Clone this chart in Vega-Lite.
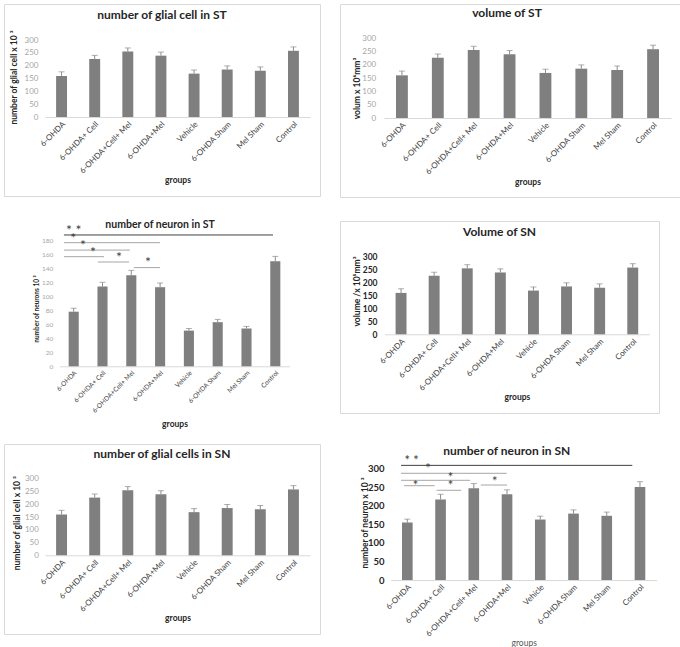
{
  "$schema": "https://vega.github.io/schema/vega-lite/v6.json",
  "background": "white",
  "padding": {"left": 3, "top": 3, "right": 0, "bottom": 0},
  "columns": 2,
  "spacing": {"row": 24, "column": 17},
  "align": "none",
  "bounds": "flush",
  "config": {
    "font": "Lato",
    "view": {"stroke": null},
    "axis": {"grid": false, "ticks": false, "tickSize": 0, "domain": false, "labelFont": "Lato", "titleFont": "Lato", "titleFontWeight": "bold", "titleColor": "#262626", "labelColor": "#404040"},
    "axisX": {"domain": true, "domainColor": "#d9d9d9", "labelAngle": -45, "labelOverlap": false, "labelPadding": 3, "titleBaseline": "middle", "titleFontSize": 8.5},
    "axisY": {"labelPadding": 3, "labelOverlap": false, "tickCount": 20, "titleAngle": -90, "titleBaseline": "middle", "titleAlign": "center"},
    "title": {"font": "Lato", "fontWeight": "bold", "color": "#262626", "anchor": "middle", "frame": "group", "baseline": "middle"}
  },
  "datasets": {
    "glialST": [
      {"group": "6-OHDA", "value": 160, "upper": 176},
      {"group": "6-OHDA+ Cell", "value": 226, "upper": 240},
      {"group": "6-OHDA+Cell+ Mel", "value": 255, "upper": 269},
      {"group": "6-OHDA+Mel", "value": 239, "upper": 253},
      {"group": "Vehicle", "value": 169, "upper": 183},
      {"group": "6-OHDA Sham", "value": 185, "upper": 199},
      {"group": "Mel Sham", "value": 180, "upper": 195},
      {"group": "Control", "value": 258, "upper": 273}
    ],
    "volumeST": [
      {"group": "6-OHDA", "value": 160, "upper": 176},
      {"group": "6-OHDA+ Cell", "value": 226, "upper": 240},
      {"group": "6-OHDA+Cell+ Mel", "value": 255, "upper": 269},
      {"group": "6-OHDA+Mel", "value": 239, "upper": 253},
      {"group": "Vehicle", "value": 169, "upper": 183},
      {"group": "6-OHDA Sham", "value": 185, "upper": 199},
      {"group": "Mel Sham", "value": 180, "upper": 195},
      {"group": "Control", "value": 258, "upper": 273}
    ],
    "volumeSN": [
      {"group": "6-OHDA", "value": 160, "upper": 176},
      {"group": "6-OHDA+ Cell", "value": 226, "upper": 240},
      {"group": "6-OHDA+Cell+ Mel", "value": 255, "upper": 269},
      {"group": "6-OHDA+Mel", "value": 239, "upper": 253},
      {"group": "Vehicle", "value": 169, "upper": 183},
      {"group": "6-OHDA Sham", "value": 185, "upper": 199},
      {"group": "Mel Sham", "value": 180, "upper": 195},
      {"group": "Control", "value": 258, "upper": 273}
    ],
    "glialSN": [
      {"group": "6-OHDA", "value": 160, "upper": 176},
      {"group": "6-OHDA+ Cell", "value": 226, "upper": 240},
      {"group": "6-OHDA+Cell+ Mel", "value": 255, "upper": 269},
      {"group": "6-OHDA+Mel", "value": 239, "upper": 253},
      {"group": "Vehicle", "value": 169, "upper": 183},
      {"group": "6-OHDA Sham", "value": 185, "upper": 199},
      {"group": "Mel Sham", "value": 180, "upper": 195},
      {"group": "Control", "value": 258, "upper": 273}
    ],
    "neuronST": [
      {"group": "6-OHDA", "value": 78, "upper": 83},
      {"group": "6-OHDA+ Cell", "value": 114, "upper": 120},
      {"group": "6-OHDA+Cell+ Mel", "value": 130, "upper": 137},
      {"group": "6-OHDA+Mel", "value": 113, "upper": 119},
      {"group": "Vehicle", "value": 51, "upper": 54},
      {"group": "6-OHDA Sham", "value": 63, "upper": 67},
      {"group": "Mel Sham", "value": 54, "upper": 57},
      {"group": "Control", "value": 150, "upper": 157}
    ],
    "neuronSN": [
      {"group": "6-OHDA", "value": 155, "upper": 164},
      {"group": "6-OHDA+ Cell", "value": 217, "upper": 231},
      {"group": "6-OHDA+Cell+ Mel", "value": 247, "upper": 260},
      {"group": "6-OHDA+Mel", "value": 231, "upper": 243},
      {"group": "Vehicle", "value": 163, "upper": 172},
      {"group": "6-OHDA Sham", "value": 179, "upper": 189},
      {"group": "Mel Sham", "value": 173, "upper": 183},
      {"group": "Control", "value": 251, "upper": 265}
    ],
    "sigST": [
      {"start": 0.16, "end": 7.42, "y": 187.6, "sig": "**"},
      {"start": 0.16, "end": 3.5, "y": 176.6, "sig": "*"},
      {"start": 0.16, "end": 2.45, "y": 166, "sig": "*"},
      {"start": 0.16, "end": 1.55, "y": 156.6, "sig": "*"},
      {"start": 1.34, "end": 2.42, "y": 149, "sig": "*"},
      {"start": 2.59, "end": 3.5, "y": 141, "sig": "*"}
    ],
    "starsST": [
      {"pos": 0.5, "y": 193.3, "sig": "* *"},
      {"pos": 0.48, "y": 181.9, "sig": "*"},
      {"pos": 0.82, "y": 171.9, "sig": "*"},
      {"pos": 1.17, "y": 162.3, "sig": "*"},
      {"pos": 2.07, "y": 155.1, "sig": "*"},
      {"pos": 3.08, "y": 147.6, "sig": "*"}
    ],
    "sigSN": [
      {"start": 0.31, "end": 7.27, "y": 309, "sig": "**"},
      {"start": 0.31, "end": 3.49, "y": 287.6, "sig": "*"},
      {"start": 0.31, "end": 2.39, "y": 268.7, "sig": "*"},
      {"start": 0.4, "end": 1.32, "y": 254.2, "sig": "*"},
      {"start": 1.38, "end": 2.12, "y": 241.8, "sig": "*"},
      {"start": 2.71, "end": 3.5, "y": 256, "sig": "*"}
    ],
    "starsSN": [
      {"pos": 0.63, "y": 322, "sig": "* *"},
      {"pos": 1.12, "y": 300, "sig": "*"},
      {"pos": 1.8, "y": 275.7, "sig": "*"},
      {"pos": 0.75, "y": 254, "sig": "*"},
      {"pos": 1.8, "y": 254, "sig": "*"},
      {"pos": 3.13, "y": 265, "sig": "*"}
    ]
  },
  "concat": [
    {
      "width": 316, "height": 192,
      "view": {"stroke": "#d9d9d9"},
      "title": {"text": "number of glial cell in ST", "fontSize": 12, "offset": -18},
      "data": {"name": "glialST"},
      "encoding": {
        "x": {"field": "group", "type": "nominal", "sort": null,
          "scale": {"range": [41, 306], "paddingInner": 0.67, "paddingOuter": 0.335},
          "axis": {"title": "groups", "offset": -79, "titleY": 62, "labelFontSize": 8}}
      },
      "layer": [
        {"mark": {"type": "bar", "color": "#7f7f7f"},
          "encoding": {"y": {"field": "value", "type": "quantitative",
            "scale": {"domain": [0, 300], "range": [113, 36], "nice": false},
            "axis": {"title": "number of glial cell x 10 ³", "values": [0, 50, 100, 150, 200, 250, 300], "tickCount": 20, "labelOverlap": false, "offset": -37, "titleX": -28, "titleY": 73, "labelFontSize": 8, "labelColor": "#a6a6a6", "titleFontSize": 8.5}}}},
        {"mark": {"type": "rule", "color": "#8c8c8c"},
          "encoding": {"y": {"field": "value", "type": "quantitative"}, "y2": {"field": "upper"}}},
        {"mark": {"type": "tick", "color": "#8c8c8c", "size": 6, "thickness": 1},
          "encoding": {"y": {"field": "upper", "type": "quantitative"}}}
      ]
    },
    {
      "width": 341, "height": 193,
      "view": {"stroke": "#d9d9d9"},
      "title": {"text": "volume of ST", "fontSize": 12, "offset": -16, "dx": -3.5},
      "data": {"name": "volumeST"},
      "encoding": {
        "x": {"field": "group", "type": "nominal", "sort": null,
          "scale": {"range": [44, 331], "paddingInner": 0.67, "paddingOuter": 0.335},
          "axis": {"title": "groups", "offset": -79, "titleY": 63, "labelFontSize": 8}}
      },
      "layer": [
        {"mark": {"type": "bar", "color": "#7f7f7f"},
          "encoding": {"y": {"field": "value", "type": "quantitative",
            "scale": {"domain": [0, 300], "range": [114, 34], "nice": false},
            "axis": {"title": "volum x 10⁶mm³", "values": [0, 50, 100, 150, 200, 250, 300], "tickCount": 20, "labelOverlap": false, "offset": -38.7, "titleX": -22.7, "titleY": 84, "labelFontSize": 8, "labelColor": "#a6a6a6", "titleFontSize": 8.5}}}},
        {"mark": {"type": "rule", "color": "#8c8c8c"},
          "encoding": {"y": {"field": "value", "type": "quantitative"}, "y2": {"field": "upper"}}},
        {"mark": {"type": "tick", "color": "#8c8c8c", "size": 6, "thickness": 1},
          "encoding": {"y": {"field": "upper", "type": "quantitative"}}}
      ]
    },
    {
      "width": 319, "height": 199,
      "title": {"text": "number of neuron in ST", "fontSize": 10.5, "offset": -9, "dx": -3.5},
      "resolve": {"scale": {"x": "independent"}},
      "layer": [
        {
          "data": {"name": "neuronST"},
          "encoding": {
            "x": {"field": "group", "type": "nominal", "sort": null,
              "scale": {"range": [55.3, 285.7], "paddingInner": 0.65, "paddingOuter": 0.325},
              "axis": {"title": "groups", "offset": -53.7, "titleY": 56.7, "labelFontSize": 6.5}}
          },
          "layer": [
            {"mark": {"type": "bar", "color": "#7f7f7f"},
              "encoding": {"y": {"field": "value", "type": "quantitative",
                "scale": {"domain": [0, 180], "range": [145.3, 19.3], "nice": false},
                "axis": {"title": "number of neurons 10 ³", "values": [0, 20, 40, 60, 80, 100, 120, 140, 160, 180], "tickCount": 20, "labelOverlap": false, "offset": -51.7, "titleX": -19.7, "titleY": 87.5, "labelFontSize": 6.5, "labelColor": "#a6a6a6", "titleFontSize": 6.5}}}},
            {"mark": {"type": "rule", "color": "#8c8c8c"},
              "encoding": {"y": {"field": "value", "type": "quantitative"}, "y2": {"field": "upper"}}},
            {"mark": {"type": "tick", "color": "#8c8c8c", "size": 6, "thickness": 1},
              "encoding": {"y": {"field": "upper", "type": "quantitative"}}}
          ]
        },
        {
          "layer": [
            {"data": {"name": "sigST"},
              "mark": {"type": "rule", "strokeWidth": 1},
              "encoding": {
                "x": {"field": "start", "type": "quantitative", "scale": {"domain": [0, 8], "range": [55.3, 285.7], "nice": false, "zero": false}, "axis": null},
                "x2": {"field": "end"},
                "y": {"field": "y", "type": "quantitative", "scale": {"domain": [0, 180], "range": [145.3, 19.3], "nice": false}},
                "color": {"field": "sig", "type": "nominal", "scale": {"domain": ["**", "*"], "range": ["#404040", "#a6a6a6"]}, "legend": null}
              }},
            {"data": {"name": "starsST"},
              "mark": {"type": "text", "fontSize": 14, "color": "#404040", "baseline": "middle", "dy": 0},
              "encoding": {
                "x": {"field": "pos", "type": "quantitative", "scale": {"domain": [0, 8], "range": [55.3, 285.7], "nice": false, "zero": false}, "axis": null},
                "y": {"field": "y", "type": "quantitative", "scale": {"domain": [0, 180], "range": [145.3, 19.3], "nice": false}},
                "text": {"field": "sig"}
              }}
          ]
        }
      ]
    },
    {
      "width": 319, "height": 192,
      "view": {"stroke": "#d9d9d9"},
      "title": {"text": "Volume of SN", "fontSize": 12, "offset": -18},
      "data": {"name": "volumeSN"},
      "encoding": {
        "x": {"field": "group", "type": "nominal", "sort": null,
          "scale": {"range": [44.5, 309.3], "paddingInner": 0.67, "paddingOuter": 0.335},
          "axis": {"title": "groups", "offset": -78.7, "titleY": 61.7, "labelFontSize": 8}}
      },
      "layer": [
        {"mark": {"type": "bar", "color": "#7f7f7f"},
          "encoding": {"y": {"field": "value", "type": "quantitative",
            "scale": {"domain": [0, 300], "range": [113.3, 35.7], "nice": false},
            "axis": {"title": "volume /x 10⁵mm³", "values": [0, 50, 100, 150, 200, 250, 300], "tickCount": 20, "labelOverlap": false, "offset": -40, "titleX": -24, "titleY": 70, "labelFontSize": 8.5, "labelFontWeight": "bold", "labelColor": "#262626", "titleFontSize": 8.5}}}},
        {"mark": {"type": "rule", "color": "#8c8c8c"},
          "encoding": {"y": {"field": "value", "type": "quantitative"}, "y2": {"field": "upper"}}},
        {"mark": {"type": "tick", "color": "#8c8c8c", "size": 6, "thickness": 1},
          "encoding": {"y": {"field": "upper", "type": "quantitative"}}}
      ]
    },
    {
      "width": 316, "height": 190,
      "view": {"stroke": "#d9d9d9"},
      "title": {"text": "number of glial cells in SN", "fontSize": 12, "offset": -17},
      "data": {"name": "glialSN"},
      "encoding": {
        "x": {"field": "group", "type": "nominal", "sort": null,
          "scale": {"range": [41, 306], "paddingInner": 0.67, "paddingOuter": 0.335},
          "axis": {"title": "groups", "offset": -78.7, "titleY": 62.4, "labelFontSize": 8}}
      },
      "layer": [
        {"mark": {"type": "bar", "color": "#7f7f7f"},
          "encoding": {"y": {"field": "value", "type": "quantitative",
            "scale": {"domain": [0, 300], "range": [111.3, 34.7], "nice": false},
            "axis": {"title": "number of glial cell x 10 ³", "values": [0, 50, 100, 150, 200, 250, 300], "tickCount": 20, "labelOverlap": false, "offset": -37.3, "titleX": -25.3, "titleY": 78.7, "labelFontSize": 8, "labelColor": "#a6a6a6", "titleFontSize": 8.5}}}},
        {"mark": {"type": "rule", "color": "#8c8c8c"},
          "encoding": {"y": {"field": "value", "type": "quantitative"}, "y2": {"field": "upper"}}},
        {"mark": {"type": "tick", "color": "#8c8c8c", "size": 6, "thickness": 1},
          "encoding": {"y": {"field": "upper", "type": "quantitative"}}}
      ]
    },
    {
      "width": 344, "height": 204,
      "title": {"text": "number of neuron in SN", "fontSize": 12, "offset": -14, "dx": -5.3},
      "resolve": {"scale": {"x": "independent"}},
      "layer": [
        {
          "data": {"name": "neuronSN"},
          "encoding": {
            "x": {"field": "group", "type": "nominal", "sort": null,
              "scale": {"range": [50.7, 316.6], "paddingInner": 0.68, "paddingOuter": 0.34},
              "axis": {"title": "groups", "offset": -68, "titleY": 62.5, "labelFontSize": 8, "titleFontWeight": "normal", "titleColor": "#595959"}}
          },
          "layer": [
            {"mark": {"type": "bar", "color": "#7f7f7f"},
              "encoding": {"y": {"field": "value", "type": "quantitative",
                "scale": {"domain": [0, 300], "range": [136, 24.7], "nice": false},
                "axis": {"title": "number of neuron x 10 ³", "values": [0, 50, 100, 150, 200, 250, 300], "tickCount": 20, "labelOverlap": false, "offset": -47, "titleX": -22.3, "titleY": 78.5, "labelFontSize": 9.5, "labelFontWeight": "bold", "labelColor": "#262626", "titleFontSize": 8.5}}}},
            {"mark": {"type": "rule", "color": "#8c8c8c"},
              "encoding": {"y": {"field": "value", "type": "quantitative"}, "y2": {"field": "upper"}}},
            {"mark": {"type": "tick", "color": "#8c8c8c", "size": 6, "thickness": 1},
              "encoding": {"y": {"field": "upper", "type": "quantitative"}}}
          ]
        },
        {
          "layer": [
            {"data": {"name": "sigSN"},
              "mark": {"type": "rule", "strokeWidth": 1},
              "encoding": {
                "x": {"field": "start", "type": "quantitative", "scale": {"domain": [0, 8], "range": [50.7, 316.6], "nice": false, "zero": false}, "axis": null},
                "x2": {"field": "end"},
                "y": {"field": "y", "type": "quantitative", "scale": {"domain": [0, 300], "range": [136, 24.7], "nice": false}},
                "color": {"field": "sig", "type": "nominal", "scale": {"domain": ["**", "*"], "range": ["#7f7f7f", "#8c8c8c"]}, "legend": null}
              }},
            {"data": {"name": "starsSN"},
              "mark": {"type": "text", "fontSize": 13, "color": "#404040", "baseline": "middle", "dy": 0},
              "encoding": {
                "x": {"field": "pos", "type": "quantitative", "scale": {"domain": [0, 8], "range": [50.7, 316.6], "nice": false, "zero": false}, "axis": null},
                "y": {"field": "y", "type": "quantitative", "scale": {"domain": [0, 300], "range": [136, 24.7], "nice": false}},
                "text": {"field": "sig"}
              }}
          ]
        }
      ]
    }
  ]
}
